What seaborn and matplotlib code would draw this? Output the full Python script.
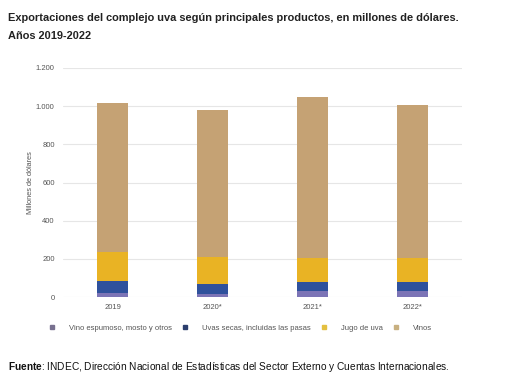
import numpy as np
import pandas as pd
import matplotlib.pyplot as plt
import seaborn as sns
from matplotlib.lines import Line2D

years = ['2019', '2020*', '2021*', '2022*']
series = ['Vino espumoso, mosto y otros', 'Uvas secas, incluidas las pasas', 'Jugo de uva', 'Vinos']
espumoso = [22, 14, 32, 32]
uvas = [64, 53, 49, 47]
jugo = [150, 142, 121, 125]
vinos = [783, 770, 846, 800]
colors = ['#7C74B6', '#2F519C', '#E9B324', '#C5A274']
legend_colors = ['#77708F', '#2C3E6E', '#E4C040', '#C8B080']

sns.set_style('white')
plt.rcParams['font.family'] = ['Liberation Sans', 'DejaVu Sans']
plt.rcParams['mathtext.fontset'] = 'custom'
plt.rcParams['mathtext.bf'] = 'Liberation Sans:bold'
plt.rcParams['mathtext.rm'] = 'Liberation Sans'

df = pd.DataFrame({'year': years, series[0]: espumoso, series[1]: uvas,
                   series[2]: jugo, series[3]: vinos})
cum = df[series].cumsum(axis=1)

fig = plt.figure(figsize=(5.29, 3.78), dpi=100)
ax = fig.add_axes([63 / 529, 1 - 297 / 378, 399 / 529, 229 / 378])

# draw totals first, then smaller stacks on top
for i in range(len(series) - 1, -1, -1):
    sns.barplot(x=df['year'], y=cum[series[i]], color=colors[i], width=0.31,
                saturation=1, linewidth=0, ax=ax, zorder=3)

ax.set_ylim(0, 1200)
ax.set_xlim(-0.5, 3.5)
ax.set_yticks(range(0, 1201, 200))
ax.set_yticklabels(['0', '200', '400', '600', '800', '1.000', '1.200'])
ax.yaxis.grid(True, color='#E6E6E6', linewidth=0.8, zorder=0)
ax.set_axisbelow(True)
for s in ax.spines.values():
    s.set_visible(False)
ax.tick_params(axis='both', length=0, labelsize=5.5, labelcolor='#555555', pad=6)
ax.tick_params(axis='x', pad=5)
ax.set_xlabel('')
ax.set_ylabel('Millones de dólares', fontsize=5.3, color='#555555', labelpad=1.5)

fig.text(8 / 529, 1 - 18 / 378,
         'Exportaciones del complejo uva según principales productos, en millones de dólares.',
         fontsize=7.9, fontweight='bold', color='#222222', va='center')
fig.text(8 / 529, 1 - 36 / 378, 'Años 2019-2022',
         fontsize=7.9, fontweight='bold', color='#222222', va='center')

handles = [Line2D([], [], marker='s', linestyle='', markersize=3, color=c) for c in legend_colors]
fig.legend(handles, series, loc='center', bbox_to_anchor=(240 / 529, 1 - 328 / 378),
           ncol=4, frameon=False, fontsize=5.5, labelcolor='#555555',
           handletextpad=1.75, columnspacing=1.2, handlelength=1)

fig.text(8 / 529, 1 - 367 / 378,
         r'$\bf{Fuente}$: INDEC, Dirección Nacional de Estadísticas del Sector Externo y Cuentas Internacionales.',
         fontsize=7.3, color='#111111', va='center')

fig.savefig('out.png', dpi=100)
